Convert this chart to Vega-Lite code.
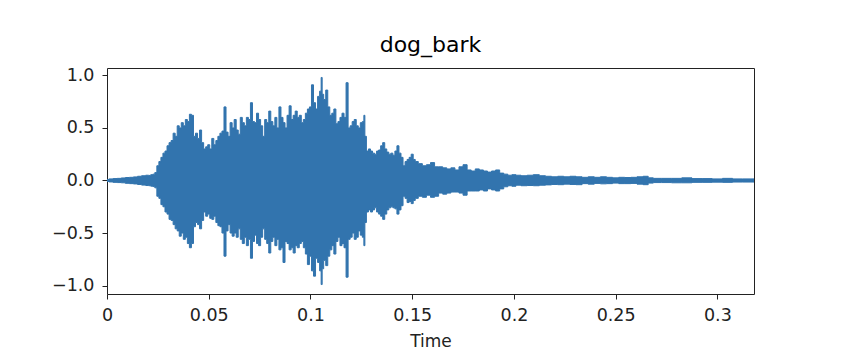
{
  "$schema": "https://vega.github.io/schema/vega-lite/v6.json",
  "width": 647,
  "height": 226,
  "autosize": {"type": "none"},
  "padding": {"left": 107, "top": 68, "right": 92, "bottom": 64},
  "background": "white",
  "title": {"text": "dog_bark", "font": "DejaVu Sans", "fontSize": 22, "fontWeight": "normal", "color": "black", "anchor": "middle", "frame": "group", "baseline": "alphabetic", "offset": 13, "dy": 21},
  "data": {"values": [
    {"t": 0.000, "hi": 0.010, "lo": -0.010},
    {"t": 0.002, "hi": 0.015, "lo": -0.014},
    {"t": 0.004, "hi": 0.018, "lo": -0.018},
    {"t": 0.006, "hi": 0.020, "lo": -0.020},
    {"t": 0.008, "hi": 0.024, "lo": -0.022},
    {"t": 0.010, "hi": 0.028, "lo": -0.027},
    {"t": 0.012, "hi": 0.030, "lo": -0.030},
    {"t": 0.014, "hi": 0.034, "lo": -0.033},
    {"t": 0.016, "hi": 0.040, "lo": -0.038},
    {"t": 0.018, "hi": 0.045, "lo": -0.044},
    {"t": 0.020, "hi": 0.050, "lo": -0.048},
    {"t": 0.021, "hi": 0.048, "lo": -0.050},
    {"t": 0.022, "hi": 0.055, "lo": -0.054},
    {"t": 0.023, "hi": 0.060, "lo": -0.058},
    {"t": 0.024, "hi": 0.075, "lo": -0.070},
    {"t": 0.025, "hi": 0.140, "lo": -0.150},
    {"t": 0.026, "hi": 0.180, "lo": -0.170},
    {"t": 0.027, "hi": 0.220, "lo": -0.230},
    {"t": 0.028, "hi": 0.260, "lo": -0.250},
    {"t": 0.029, "hi": 0.280, "lo": -0.300},
    {"t": 0.030, "hi": 0.330, "lo": -0.320},
    {"t": 0.031, "hi": 0.360, "lo": -0.370},
    {"t": 0.032, "hi": 0.380, "lo": -0.380},
    {"t": 0.033, "hi": 0.450, "lo": -0.420},
    {"t": 0.034, "hi": 0.420, "lo": -0.460},
    {"t": 0.035, "hi": 0.520, "lo": -0.480},
    {"t": 0.036, "hi": 0.500, "lo": -0.530},
    {"t": 0.037, "hi": 0.550, "lo": -0.500},
    {"t": 0.038, "hi": 0.520, "lo": -0.560},
    {"t": 0.039, "hi": 0.580, "lo": -0.540},
    {"t": 0.040, "hi": 0.560, "lo": -0.600},
    {"t": 0.041, "hi": 0.630, "lo": -0.640},
    {"t": 0.042, "hi": 0.620, "lo": -0.600},
    {"t": 0.043, "hi": 0.420, "lo": -0.440},
    {"t": 0.044, "hi": 0.450, "lo": -0.400},
    {"t": 0.045, "hi": 0.400, "lo": -0.420},
    {"t": 0.046, "hi": 0.480, "lo": -0.460},
    {"t": 0.047, "hi": 0.360, "lo": -0.380},
    {"t": 0.048, "hi": 0.300, "lo": -0.300},
    {"t": 0.049, "hi": 0.320, "lo": -0.340},
    {"t": 0.050, "hi": 0.340, "lo": -0.320},
    {"t": 0.051, "hi": 0.300, "lo": -0.360},
    {"t": 0.052, "hi": 0.400, "lo": -0.370},
    {"t": 0.053, "hi": 0.340, "lo": -0.340},
    {"t": 0.054, "hi": 0.380, "lo": -0.400},
    {"t": 0.055, "hi": 0.420, "lo": -0.430},
    {"t": 0.056, "hi": 0.450, "lo": -0.440},
    {"t": 0.057, "hi": 0.470, "lo": -0.500},
    {"t": 0.058, "hi": 0.700, "lo": -0.720},
    {"t": 0.059, "hi": 0.460, "lo": -0.480},
    {"t": 0.060, "hi": 0.420, "lo": -0.420},
    {"t": 0.061, "hi": 0.550, "lo": -0.500},
    {"t": 0.062, "hi": 0.500, "lo": -0.530},
    {"t": 0.063, "hi": 0.580, "lo": -0.500},
    {"t": 0.064, "hi": 0.480, "lo": -0.540},
    {"t": 0.065, "hi": 0.440, "lo": -0.460},
    {"t": 0.066, "hi": 0.600, "lo": -0.560},
    {"t": 0.067, "hi": 0.550, "lo": -0.600},
    {"t": 0.068, "hi": 0.520, "lo": -0.540},
    {"t": 0.069, "hi": 0.600, "lo": -0.620},
    {"t": 0.070, "hi": 0.580, "lo": -0.560},
    {"t": 0.071, "hi": 0.740, "lo": -0.740},
    {"t": 0.072, "hi": 0.560, "lo": -0.580},
    {"t": 0.073, "hi": 0.550, "lo": -0.520},
    {"t": 0.074, "hi": 0.640, "lo": -0.600},
    {"t": 0.075, "hi": 0.580, "lo": -0.620},
    {"t": 0.076, "hi": 0.520, "lo": -0.540},
    {"t": 0.077, "hi": 0.420, "lo": -0.460},
    {"t": 0.078, "hi": 0.580, "lo": -0.560},
    {"t": 0.079, "hi": 0.550, "lo": -0.600},
    {"t": 0.080, "hi": 0.660, "lo": -0.690},
    {"t": 0.081, "hi": 0.560, "lo": -0.580},
    {"t": 0.082, "hi": 0.520, "lo": -0.540},
    {"t": 0.083, "hi": 0.600, "lo": -0.620},
    {"t": 0.084, "hi": 0.500, "lo": -0.560},
    {"t": 0.085, "hi": 0.700, "lo": -0.660},
    {"t": 0.086, "hi": 0.600, "lo": -0.640},
    {"t": 0.087, "hi": 0.550, "lo": -0.780},
    {"t": 0.088, "hi": 0.500, "lo": -0.580},
    {"t": 0.089, "hi": 0.620, "lo": -0.600},
    {"t": 0.090, "hi": 0.710, "lo": -0.660},
    {"t": 0.091, "hi": 0.580, "lo": -0.640},
    {"t": 0.092, "hi": 0.620, "lo": -0.690},
    {"t": 0.093, "hi": 0.660, "lo": -0.620},
    {"t": 0.094, "hi": 0.600, "lo": -0.640},
    {"t": 0.095, "hi": 0.620, "lo": -0.600},
    {"t": 0.096, "hi": 0.550, "lo": -0.580},
    {"t": 0.097, "hi": 0.580, "lo": -0.640},
    {"t": 0.098, "hi": 0.640, "lo": -0.700},
    {"t": 0.099, "hi": 0.680, "lo": -0.800},
    {"t": 0.100, "hi": 0.700, "lo": -0.720},
    {"t": 0.101, "hi": 0.910, "lo": -0.860},
    {"t": 0.102, "hi": 0.740, "lo": -0.910},
    {"t": 0.103, "hi": 0.680, "lo": -0.740},
    {"t": 0.104, "hi": 0.800, "lo": -0.780},
    {"t": 0.105, "hi": 0.850, "lo": -0.860},
    {"t": 0.1055, "hi": 0.980, "lo": -0.990},
    {"t": 0.106, "hi": 0.820, "lo": -0.840},
    {"t": 0.107, "hi": 0.770, "lo": -0.760},
    {"t": 0.108, "hi": 0.860, "lo": -0.810},
    {"t": 0.109, "hi": 0.700, "lo": -0.720},
    {"t": 0.110, "hi": 0.620, "lo": -0.660},
    {"t": 0.111, "hi": 0.640, "lo": -0.620},
    {"t": 0.112, "hi": 0.680, "lo": -0.700},
    {"t": 0.113, "hi": 0.540, "lo": -0.580},
    {"t": 0.114, "hi": 0.560, "lo": -0.540},
    {"t": 0.115, "hi": 0.600, "lo": -0.620},
    {"t": 0.116, "hi": 0.640, "lo": -0.600},
    {"t": 0.117, "hi": 0.600, "lo": -0.640},
    {"t": 0.118, "hi": 0.930, "lo": -0.920},
    {"t": 0.119, "hi": 0.500, "lo": -0.560},
    {"t": 0.120, "hi": 0.520, "lo": -0.540},
    {"t": 0.121, "hi": 0.560, "lo": -0.500},
    {"t": 0.122, "hi": 0.580, "lo": -0.560},
    {"t": 0.123, "hi": 0.520, "lo": -0.540},
    {"t": 0.124, "hi": 0.500, "lo": -0.480},
    {"t": 0.125, "hi": 0.550, "lo": -0.520},
    {"t": 0.126, "hi": 0.560, "lo": -0.540},
    {"t": 0.1265, "hi": 0.620, "lo": -0.620},
    {"t": 0.127, "hi": 0.420, "lo": -0.400},
    {"t": 0.128, "hi": 0.280, "lo": -0.300},
    {"t": 0.129, "hi": 0.300, "lo": -0.280},
    {"t": 0.130, "hi": 0.280, "lo": -0.300},
    {"t": 0.131, "hi": 0.260, "lo": -0.280},
    {"t": 0.132, "hi": 0.250, "lo": -0.260},
    {"t": 0.133, "hi": 0.280, "lo": -0.300},
    {"t": 0.134, "hi": 0.290, "lo": -0.320},
    {"t": 0.135, "hi": 0.330, "lo": -0.340},
    {"t": 0.136, "hi": 0.360, "lo": -0.370},
    {"t": 0.137, "hi": 0.300, "lo": -0.320},
    {"t": 0.138, "hi": 0.270, "lo": -0.280},
    {"t": 0.139, "hi": 0.250, "lo": -0.260},
    {"t": 0.140, "hi": 0.260, "lo": -0.250},
    {"t": 0.141, "hi": 0.240, "lo": -0.260},
    {"t": 0.142, "hi": 0.280, "lo": -0.270},
    {"t": 0.143, "hi": 0.330, "lo": -0.320},
    {"t": 0.144, "hi": 0.260, "lo": -0.280},
    {"t": 0.145, "hi": 0.220, "lo": -0.240},
    {"t": 0.146, "hi": 0.140, "lo": -0.150},
    {"t": 0.147, "hi": 0.180, "lo": -0.170},
    {"t": 0.148, "hi": 0.200, "lo": -0.210},
    {"t": 0.149, "hi": 0.220, "lo": -0.200},
    {"t": 0.150, "hi": 0.250, "lo": -0.220},
    {"t": 0.151, "hi": 0.200, "lo": -0.190},
    {"t": 0.152, "hi": 0.180, "lo": -0.170},
    {"t": 0.154, "hi": 0.160, "lo": -0.150},
    {"t": 0.156, "hi": 0.140, "lo": -0.160},
    {"t": 0.158, "hi": 0.150, "lo": -0.140},
    {"t": 0.160, "hi": 0.170, "lo": -0.160},
    {"t": 0.162, "hi": 0.130, "lo": -0.150},
    {"t": 0.164, "hi": 0.130, "lo": -0.120},
    {"t": 0.166, "hi": 0.120, "lo": -0.130},
    {"t": 0.168, "hi": 0.110, "lo": -0.120},
    {"t": 0.170, "hi": 0.120, "lo": -0.110},
    {"t": 0.172, "hi": 0.100, "lo": -0.110},
    {"t": 0.174, "hi": 0.130, "lo": -0.120},
    {"t": 0.176, "hi": 0.150, "lo": -0.140},
    {"t": 0.178, "hi": 0.100, "lo": -0.100},
    {"t": 0.180, "hi": 0.090, "lo": -0.100},
    {"t": 0.182, "hi": 0.110, "lo": -0.100},
    {"t": 0.184, "hi": 0.100, "lo": -0.090},
    {"t": 0.186, "hi": 0.090, "lo": -0.100},
    {"t": 0.188, "hi": 0.080, "lo": -0.080},
    {"t": 0.190, "hi": 0.090, "lo": -0.090},
    {"t": 0.192, "hi": 0.100, "lo": -0.100},
    {"t": 0.194, "hi": 0.070, "lo": -0.080},
    {"t": 0.196, "hi": 0.060, "lo": -0.060},
    {"t": 0.198, "hi": 0.050, "lo": -0.050},
    {"t": 0.200, "hi": 0.055, "lo": -0.055},
    {"t": 0.202, "hi": 0.050, "lo": -0.045},
    {"t": 0.205, "hi": 0.045, "lo": -0.050},
    {"t": 0.208, "hi": 0.050, "lo": -0.048},
    {"t": 0.211, "hi": 0.055, "lo": -0.050},
    {"t": 0.214, "hi": 0.045, "lo": -0.045},
    {"t": 0.217, "hi": 0.040, "lo": -0.042},
    {"t": 0.220, "hi": 0.035, "lo": -0.038},
    {"t": 0.223, "hi": 0.040, "lo": -0.040},
    {"t": 0.226, "hi": 0.035, "lo": -0.035},
    {"t": 0.229, "hi": 0.040, "lo": -0.038},
    {"t": 0.232, "hi": 0.035, "lo": -0.040},
    {"t": 0.235, "hi": 0.030, "lo": -0.030},
    {"t": 0.238, "hi": 0.035, "lo": -0.035},
    {"t": 0.241, "hi": 0.030, "lo": -0.028},
    {"t": 0.244, "hi": 0.035, "lo": -0.032},
    {"t": 0.247, "hi": 0.030, "lo": -0.030},
    {"t": 0.250, "hi": 0.025, "lo": -0.025},
    {"t": 0.253, "hi": 0.030, "lo": -0.030},
    {"t": 0.256, "hi": 0.028, "lo": -0.030},
    {"t": 0.259, "hi": 0.030, "lo": -0.028},
    {"t": 0.262, "hi": 0.035, "lo": -0.035},
    {"t": 0.265, "hi": 0.040, "lo": -0.040},
    {"t": 0.267, "hi": 0.025, "lo": -0.025},
    {"t": 0.270, "hi": 0.020, "lo": -0.020},
    {"t": 0.275, "hi": 0.020, "lo": -0.020},
    {"t": 0.280, "hi": 0.020, "lo": -0.022},
    {"t": 0.285, "hi": 0.025, "lo": -0.022},
    {"t": 0.290, "hi": 0.018, "lo": -0.018},
    {"t": 0.295, "hi": 0.018, "lo": -0.018},
    {"t": 0.300, "hi": 0.015, "lo": -0.016},
    {"t": 0.305, "hi": 0.020, "lo": -0.018},
    {"t": 0.310, "hi": 0.015, "lo": -0.015},
    {"t": 0.315, "hi": 0.015, "lo": -0.015},
    {"t": 0.318, "hi": 0.015, "lo": -0.015}
  ]},
  "mark": {"type": "area", "color": "#3274ae", "stroke": "#3274ae", "strokeWidth": 1, "clip": true, "interpolate": "step"},
  "encoding": {
    "x": {"field": "t", "type": "quantitative",
      "scale": {"domain": [0, 0.318], "nice": false, "zero": false},
      "axis": {"values": [0, 0.05, 0.1, 0.15, 0.2, 0.25, 0.3], "format": "~g", "title": "Time", "labelPadding": 7, "titlePadding": 10, "labelFlush": false}},
    "y": {"field": "hi", "type": "quantitative",
      "scale": {"domain": [-1.08, 1.07], "nice": false, "zero": false},
      "axis": {"values": [-1, -0.5, 0, 0.5, 1], "format": ".1f", "title": null, "labelPadding": 8, "labelFlush": false}},
    "y2": {"field": "lo"}
  },
  "config": {
    "view": {"stroke": "#222", "strokeWidth": 1},
    "axis": {"domain": false, "grid": false, "ticks": true, "tickColor": "#222", "tickSize": 5, "tickWidth": 1,
      "labelFont": "DejaVu Sans", "labelFontSize": 17.5, "labelColor": "#222",
      "titleFont": "DejaVu Sans", "titleFontSize": 17, "titleFontWeight": "normal", "titleColor": "#222"}
  }
}
